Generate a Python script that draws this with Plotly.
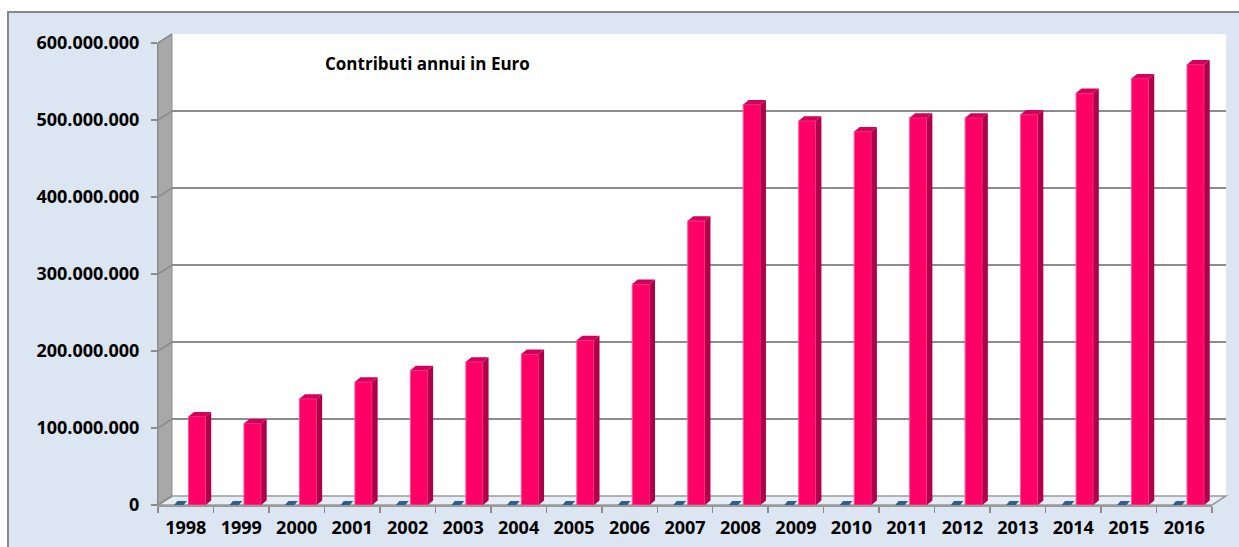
import plotly.graph_objects as go

# ---------------- data ----------------
anni = ["1998", "1999", "2000", "2001", "2002", "2003", "2004", "2005", "2006", "2007",
        "2008", "2009", "2010", "2011", "2012", "2013", "2014", "2015", "2016"]
contributi = [115e6, 106e6, 138e6, 160e6, 175e6, 186e6, 196e6, 214e6, 287e6, 369e6,
              520e6, 499e6, 485e6, 503e6, 503e6, 507e6, 535e6, 554e6, 572e6]
serie_nascosta = [0, 0, 0, 0, 0, 0, 0, 0, 0, 0, 0, 0, 0, 0, 0, 0, 0, 0, 0]
y_tick_vals = [0, 100e6, 200e6, 300e6, 400e6, 500e6, 600e6]
y_tick_text = ["0", "100.000.000", "200.000.000", "300.000.000", "400.000.000",
               "500.000.000", "600.000.000"]
titolo = "Contributi annui in Euro"

# ---------------- geometry (pixels) ----------------
W, H = 1239, 547
FX0, FX1 = 158, 1212      # front plane x extent
FY0, FY1 = 505, 43        # front plane y for 0 and 600M
DX, DY = 14, -9           # depth offset of back wall
YMAX = 600e6
n = len(anni)

def px(x):
    return x / W

def py(y):
    return 1 - y / H

def path(points):
    return "M " + " L ".join(f"{px(x):.5f},{py(y):.5f}" for x, y in points) + " Z"

x_unit = (FX1 - FX0) / n
y_unit = (FY0 - FY1) / YMAX

side_dx = 5.5 / x_unit
side_dy = 4.5 / y_unit
bar_off, bar_w = 0.05, 0.31

FONT = "Open Sans"

fig = go.Figure()

fig.add_trace(go.Scatter(x=[0], y=[0], mode="markers", marker=dict(opacity=0),
                         hoverinfo="skip", showlegend=False, xaxis="x", yaxis="y"))

fig.add_trace(go.Bar(x=list(range(n)), y=contributi, width=bar_w, offset=bar_off,
                     marker=dict(color="#ff0066", line=dict(color="#ff4d94", width=1)),
                     xaxis="x2", yaxis="y2", showlegend=False, hoverinfo="skip"))

sx, sy, tx, ty, bx, by = [], [], [], [], [], []
for i, v in enumerate(contributi):
    xl = i + bar_off
    xr = xl + bar_w
    sx += [xr, xr, xr + side_dx, xr + side_dx, xr, None]
    sy += [0, v, v + side_dy, side_dy, 0, None]
    tx += [xl, xr, xr + side_dx, xl + side_dx, xl, None]
    ty += [v, v, v + side_dy, v + side_dy, v, None]
for i, v in enumerate(serie_nascosta):
    xl = i - 0.21
    xr = i - 0.04
    bx += [xl, xr, xr + 0.06, xl + 0.06, xl, None]
    by += [v, v, v + 4.0 / y_unit, v + 4.0 / y_unit, v, None]

fig.add_trace(go.Scatter(x=sx, y=sy, fill="toself", fillcolor="#b0004a", mode="lines",
                         line=dict(width=0, color="#b0004a"), xaxis="x2", yaxis="y2",
                         showlegend=False, hoverinfo="skip"))
fig.add_trace(go.Scatter(x=tx, y=ty, fill="toself", fillcolor="#d4005a", mode="lines",
                         line=dict(width=0, color="#d4005a"), xaxis="x2", yaxis="y2",
                         showlegend=False, hoverinfo="skip"))
fig.add_trace(go.Scatter(x=bx, y=by, fill="toself", fillcolor="#2f5f8f", mode="lines",
                         line=dict(width=0, color="#2f5f8f"), xaxis="x2", yaxis="y2",
                         showlegend=False, hoverinfo="skip"))

shapes = []
shapes.append(dict(type="rect", xref="paper", yref="paper", x0=px(8), y0=py(12),
                   x1=px(1260), y1=py(570), fillcolor="#dce6f2",
                   line=dict(color="#888888", width=2), layer="below"))
shapes.append(dict(type="rect", xref="paper", yref="paper", x0=px(FX0 + DX), y0=py(FY0 + DY),
                   x1=px(FX1 + DX), y1=py(FY1 + DY), fillcolor="#ffffff",
                   line=dict(width=0), layer="below"))
shapes.append(dict(type="path", xref="paper", yref="paper",
                   path=path([(FX0, FY0), (FX0, FY1), (FX0 + DX, FY1 + DY), (FX0 + DX, FY0 + DY)]),
                   fillcolor="#a8a8a8", line=dict(color="#8c8c8c", width=1), layer="below"))
shapes.append(dict(type="path", xref="paper", yref="paper",
                   path=path([(FX0, FY0), (FX1, FY0), (FX1 + DX, FY0 + DY), (FX0 + DX, FY0 + DY)]),
                   fillcolor="#e6edf5", line=dict(color="#9a9a9a", width=1.5), layer="below"))
for v in y_tick_vals:
    yf = FY0 - v * y_unit
    shapes.append(dict(type="line", xref="paper", yref="paper", x0=px(FX0), y0=py(yf),
                       x1=px(FX0 + DX), y1=py(yf + DY),
                       line=dict(color="#8c8c8c", width=1.5), layer="below"))

fig.update_layout(
    width=W, height=H,
    autosize=False,
    margin=dict(l=0, r=0, t=0, b=0, pad=0, autoexpand=False),
    paper_bgcolor="#ffffff",
    plot_bgcolor="rgba(0,0,0,0)",
    showlegend=False,
    shapes=shapes,
    xaxis=dict(domain=[px(FX0 + DX), px(FX1 + DX)], range=[-0.5, n - 0.5], anchor="y",
               showgrid=False, zeroline=False, showticklabels=False, ticks="", showline=False,
               automargin=False, fixedrange=True),
    yaxis=dict(domain=[py(FY0 + DY), py(FY1 + DY)], range=[0, YMAX], anchor="x",
               tickvals=y_tick_vals, showgrid=True, gridcolor="#8c8c8c", gridwidth=2,
               zeroline=False, showticklabels=False, ticks="", showline=False,
               automargin=False, fixedrange=True),
    xaxis2=dict(domain=[px(FX0), px(FX1)], range=[-0.5, n - 0.5], anchor="y2",
                tickvals=list(range(n)), ticktext=anni, ticks="outside", ticklen=6,
                tickcolor="rgba(0,0,0,0)",
                minor=dict(tickvals=[i - 0.5 for i in range(n + 1)], ticks="outside",
                           ticklen=6, tickcolor="#8c8c8c", tickwidth=1.5),
                showgrid=False, zeroline=False, showline=True, linecolor="#9a9a9a",
                linewidth=1.5, automargin=False,
                tickfont=dict(family=FONT, size=18, color="#000000", weight="bold"),
                fixedrange=True),
    yaxis2=dict(domain=[py(FY0), py(FY1)], range=[0, YMAX], anchor="x2",
                tickvals=y_tick_vals, ticktext=y_tick_text, ticks="outside", ticklen=6,
                tickcolor="#8c8c8c", tickwidth=1.5, showgrid=False, zeroline=False,
                showline=True, linecolor="#8c8c8c", linewidth=1,
                ticklabelstandoff=8, automargin=False,
                tickfont=dict(family=FONT, size=18, color="#000000", weight="bold"),
                fixedrange=True),
    annotations=[dict(text="<b>" + titolo + "</b>", xref="paper", yref="paper",
                      x=px(427), y=py(64), xanchor="center", yanchor="middle",
                      showarrow=False, font=dict(family=FONT, size=17, color="#000000"))],
)

fig.write_html("out.html",
               config={"displayModeBar": False, "staticPlot": True},
               post_script="document.body.style.margin='0';document.body.style.overflow='hidden';")
